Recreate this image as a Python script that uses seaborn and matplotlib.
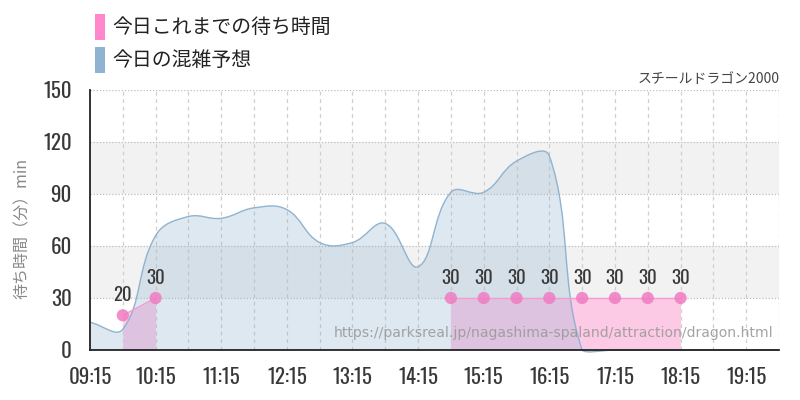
import numpy as np
import pandas as pd
import matplotlib
matplotlib.use("Agg")
import matplotlib.pyplot as plt
from matplotlib.path import Path
from matplotlib.patches import PathPatch, Rectangle
from matplotlib import font_manager
import seaborn as sns

# ---------------- data ----------------
title = "スチールドラゴン2000"
legend_labels = ["今日これまでの待ち時間", "今日の混雑予想"]
y_label = "待ち時間（分）min"
watermark = "https://parksreal.jp/nagashima-spaland/attraction/dragon.html"

forecast_times = ["09:15", "09:45", "10:15", "10:45", "11:15", "11:45", "12:15", "12:45",
                  "13:15", "13:45", "14:15", "14:45", "15:15", "15:45", "16:15", "16:45",
                  "17:15", "17:45", "18:15", "18:45", "19:15", "19:45"]
forecast_values = [16, 12, 66, 77, 76, 82, 81, 62,
                   62, 73, 48, 91, 91, 109, 112, 0,
                   0, 0, 0, 0, 0, 0]

wait_times_a = ["09:45", "10:15"]
wait_values_a = [20, 30]
wait_times_b = ["14:45", "15:15", "15:45", "16:15", "16:45", "17:15", "17:45", "18:15"]
wait_values_b = [30, 30, 30, 30, 30, 30, 30, 30]

x_tick_labels = ["09:15", "10:15", "11:15", "12:15", "13:15", "14:15",
                 "15:15", "16:15", "17:15", "18:15", "19:15"]
y_ticks = [0, 30, 60, 90, 120, 150]


def to_hours(s):
    h, m = s.split(":")
    return int(h) + int(m) / 60.0


# ---------------- style ----------------
sns.set_style("white")
avail = {f.name for f in font_manager.fontManager.ttflist}
num_font = [f for f in ["Oswald", "Roboto Condensed", "Roboto", "DejaVu Sans"] if f in avail]
jp_font = ["Noto Sans CJK JP", "DejaVu Sans"]
plt.rcParams["font.family"] = jp_font

PINK_FILL = "#fdcae6"
PINK_PT = "#f07cc2"
PINK_LINE = "#f29ccf"
PINK_LEG = "#ff88cc"
BLUE = "#8fb3d0"
NUM_COL = "#383838"

fig = plt.figure(figsize=(8, 4), dpi=100)
ax = fig.add_axes([90 / 800, 50 / 400, 689 / 800, 260 / 400])

xmin, xmax = to_hours("09:15"), to_hours("19:45")
ymin, ymax = 0, 150
ax.set_xlim(xmin, xmax)
ax.set_ylim(ymin, ymax)

# background bands
for lo, hi in [(30, 60), (90, 120)]:
    ax.axhspan(lo, hi, color="#f2f2f2", zorder=0, lw=0)

# grid
for y in y_ticks[1:]:
    ax.axhline(y, color="#bdbdbd", lw=0.9, ls=(0, (1, 1.5)), zorder=1)
grid_x = np.arange(xmin + 0.5, xmax + 0.01, 0.5)
for gx in grid_x:
    ax.axvline(gx, color="#cfcfcf", lw=0.9, ls=(0, (3, 3)), zorder=1)

# ---------------- forecast (smooth bezier, Chart.js-like tension) ----------------
fx = np.array([to_hours(t) for t in forecast_times])
fy = np.array(forecast_values, dtype=float)
sx, sy = 65.6, 52 / 30.0  # pixel scale for tension computation
px, py = fx * sx, fy * sy
n = len(px)
tension = 0.4
cp_prev = np.zeros((n, 2))
cp_next = np.zeros((n, 2))
for i in range(n):
    pr = i - 1 if i > 0 else i
    nx = i + 1 if i < n - 1 else i
    d01 = np.hypot(px[i] - px[pr], py[i] - py[pr])
    d12 = np.hypot(px[nx] - px[i], py[nx] - py[i])
    tot = d01 + d12
    s01 = d01 / tot if tot else 0
    s12 = d12 / tot if tot else 0
    fa, fb = tension * s01, tension * s12
    dx, dy = px[nx] - px[pr], py[nx] - py[pr]
    cp_prev[i] = [px[i] - fa * dx, py[i] - fa * dy]
    cp_next[i] = [px[i] + fb * dx, py[i] + fb * dy]
# keep control points near the chart area (like capBezierPoints)
lo_cap = (ymin - 2.5) * sy
cp_prev[:, 1] = np.clip(cp_prev[:, 1], lo_cap, ymax * sy)
cp_next[:, 1] = np.clip(cp_next[:, 1], lo_cap, ymax * sy)

verts = [(fx[0], fy[0])]
codes = [Path.MOVETO]
for i in range(n - 1):
    verts += [(cp_next[i][0] / sx, cp_next[i][1] / sy),
              (cp_prev[i + 1][0] / sx, cp_prev[i + 1][1] / sy),
              (fx[i + 1], fy[i + 1])]
    codes += [Path.CURVE4] * 3
line_path = Path(verts, codes)
fill_verts = verts + [(fx[-1], 0), (fx[0], 0), (fx[0], fy[0])]
fill_codes = codes + [Path.LINETO, Path.LINETO, Path.CLOSEPOLY]

# ---------------- wait times (pink) ----------------
for tlist, vlist in [(wait_times_a, wait_values_a), (wait_times_b, wait_values_b)]:
    hx = [to_hours(t) for t in tlist]
    ax.fill_between(hx, 0, vlist, color=PINK_FILL, lw=0, zorder=2)

ax.add_patch(PathPatch(Path(fill_verts, fill_codes), facecolor=BLUE, alpha=0.29,
                       edgecolor="none", zorder=3, clip_on=False))
ax.add_patch(PathPatch(line_path, facecolor="none", edgecolor=BLUE, lw=1.0,
                       zorder=4, clip_on=False))

df_wait = pd.DataFrame({
    "time": [to_hours(t) for t in wait_times_a + wait_times_b],
    "value": wait_values_a + wait_values_b,
    "seg": ["a"] * len(wait_times_a) + ["b"] * len(wait_times_b),
})
for seg, d in df_wait.groupby("seg"):
    sns.lineplot(data=d, x="time", y="value", ax=ax, color=PINK_LINE, lw=1.0,
                 zorder=5, estimator=None, sort=False)
sns.scatterplot(data=df_wait, x="time", y="value", ax=ax, color=PINK_PT, s=78,
                alpha=0.85, edgecolor="none", zorder=6, clip_on=False)
for _, r in df_wait.iterrows():
    ax.annotate(f"{int(r.value)}", (r.time, r.value), xytext=(0, 8),
                textcoords="offset points", ha="center", va="bottom",
                fontsize=13.5, fontweight="light", color=NUM_COL, family=num_font, zorder=7)

# watermark
ax.text(0.992, 0.065, watermark, transform=ax.transAxes, ha="right", va="center",
        fontsize=10.1, color="#9a9a9a", alpha=0.9, family=["DejaVu Sans"], zorder=8)

# ---------------- axes ----------------
ax.set_xlabel("")
ax.set_ylabel("")
ax.set_yticks(y_ticks)
ax.set_yticklabels([str(v) for v in y_ticks], family=num_font, fontsize=15,
                   fontweight="light", color=NUM_COL)
ax.set_xticks([to_hours(t) for t in x_tick_labels])
ax.set_xticklabels(x_tick_labels, family=num_font, fontsize=15, fontweight="light",
                   color=NUM_COL)
ax.tick_params(axis="y", length=10, width=1, color="#b0b0b0", pad=3)
ax.tick_params(axis="x", length=10, width=1, color="#c0c0c0", pad=2)
for s in ["top", "right"]:
    ax.spines[s].set_visible(False)
for s in ["left", "bottom"]:
    ax.spines[s].set_color("#222222")
    ax.spines[s].set_linewidth(1.3)
    ax.spines[s].set_zorder(9)
if ax.get_legend():
    ax.get_legend().remove()

fig.text(22 / 800, 1 - 228 / 400, y_label, rotation=90, ha="center", va="center",
         fontsize=11.5, color="#888888", family=jp_font)

# title top-right
fig.text(780 / 800, 1 - 79 / 400, title, ha="right", va="center", fontsize=10,
         color="#444444", family=jp_font)

# legend
for i, (lab, col) in enumerate(zip(legend_labels, [PINK_LEG, BLUE])):
    yc = 27 + i * 33
    fig.patches.append(Rectangle((95 / 800, 1 - (yc + 13) / 400), 10 / 800, 26 / 400,
                                 transform=fig.transFigure, facecolor=col,
                                 edgecolor="none", figure=fig))
    fig.text(112 / 800, 1 - yc / 400, lab, ha="left", va="center", fontsize=14.3,
             color="#222222", family=jp_font)

fig.savefig("out.png", dpi=100)
